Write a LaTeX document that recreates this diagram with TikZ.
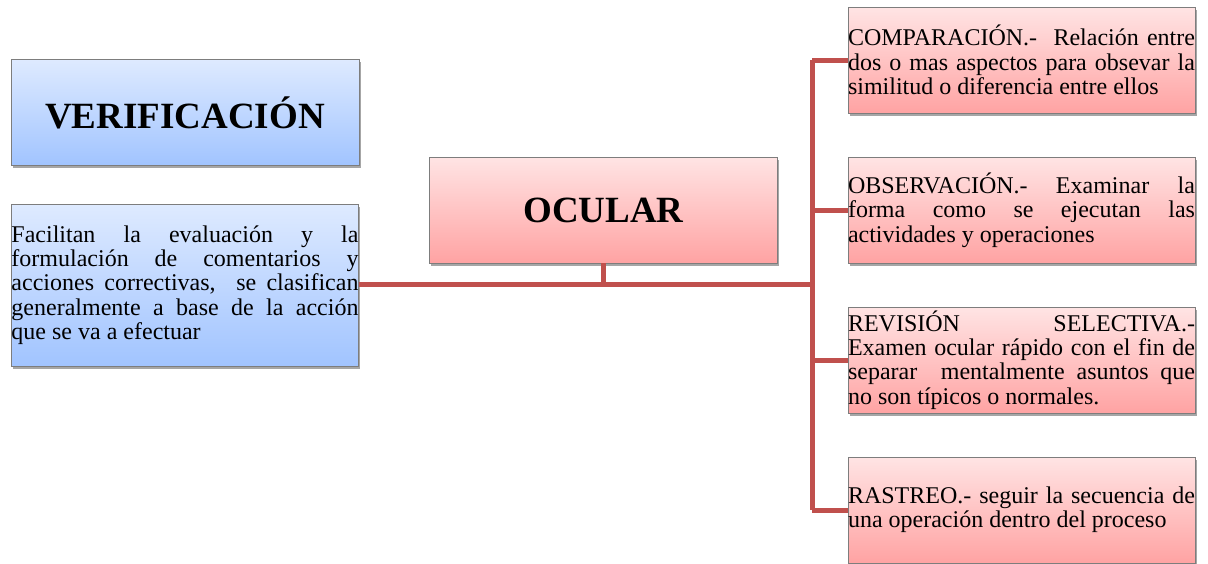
\documentclass[tikz,border=0pt]{standalone}
\usepackage{fontspec}
\setmainfont{Liberation Serif}
\usetikzlibrary{shadows}
\definecolor{conn}{RGB}{192,80,77}
\definecolor{pinkT}{RGB}{255,228,228}
\definecolor{pinkB}{RGB}{255,163,163}
\definecolor{blueT}{RGB}{222,234,255}
\definecolor{blueB}{RGB}{161,196,255}
\definecolor{edgec}{RGB}{125,125,125}
\tikzset{
  box/.style={draw=edgec, line width=0.8pt, rectangle, inner xsep=0pt, inner ysep=0pt,
    drop shadow={shadow xshift=1.5pt, shadow yshift=-2.5pt, opacity=0.35, fill=black}},
  bluebox/.style={box, top color=blueT, bottom color=blueB},
  pinkbox/.style={box, top color=pinkT, bottom color=pinkB},
  body/.style={text width=347pt, align=justify, font=\fontsize{24}{24.3}\selectfont},
  titlebox/.style={minimum width=348pt, minimum height=106pt, font=\fontsize{37}{40}\selectfont\bfseries},
  link/.style={draw=conn, line width=5pt}
}
\begin{document}
\begin{tikzpicture}[x=1pt, y=-1pt]
\useasboundingbox[fill=white] (0,0) rectangle (1208,563);

\node[bluebox, titlebox] (verif) at (185,112.5) {VERIFICACIÓN};
\node[bluebox, body, minimum height=162pt] (lt) at (185,285)
  {Facilitan la evaluación y la\linebreak formulación de comentarios y\linebreak acciones correctivas,\ \ se clasifican\linebreak generalmente a base de la acción\linebreak que se va a efectuar};
\node[pinkbox, titlebox] (oc) at (603.5,210) {OCULAR};

\node[pinkbox, body, minimum height=106pt] (c1) at (1021.5,60)
  {COMPARACIÓN.-\ \ Relación entre\linebreak dos o mas aspectos para obsevar la\linebreak similitud o diferencia entre ellos};
\node[pinkbox, body, minimum height=106pt] (c2) at (1021.5,210)
  {OBSERVACIÓN.- Examinar la\linebreak forma como se ejecutan las\linebreak actividades y operaciones};
\node[pinkbox, body, minimum height=106pt] (c3) at (1021.5,360)
  {REVISIÓN SELECTIVA.-\linebreak Examen ocular rápido con el fin de\linebreak separar\ \ mentalmente asuntos que\linebreak no son típicos o normales.};
\node[pinkbox, body, minimum height=106pt] (c4) at (1021.5,510)
  {RASTREO.- seguir la secuencia de\linebreak una operación dentro del proceso};

\coordinate (hub) at (812,284);
\draw[link] (lt.east |- hub) -- (hub);
\draw[link] (oc.south) -- (oc.south |- hub);
\draw[link] (c1.west -| hub) -- (c4.west -| hub);
\draw[link] (c1.west -| hub) -- (c1.west);
\draw[link] (c2.west -| hub) -- (c2.west);
\draw[link] (c3.west -| hub) -- (c3.west);
\draw[link] (c4.west -| hub) -- (c4.west);
\end{tikzpicture}
\end{document}
